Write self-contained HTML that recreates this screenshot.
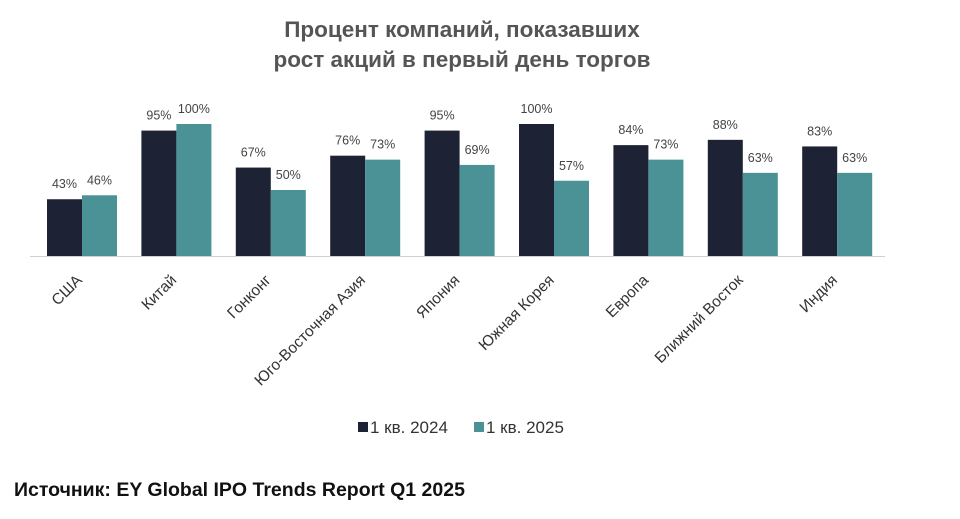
<!DOCTYPE html>
<html><head><meta charset="utf-8"><style>
body{margin:0;background:#fff;width:960px;height:514px;overflow:hidden;font-family:"Liberation Sans",sans-serif;}
</style></head><body>
<svg width="960" height="514">
<text x="462" y="37" text-anchor="middle" font-size="22.5" fill="#555" font-weight="bold">Процент компаний, показавших</text>
<text x="462" y="67" text-anchor="middle" font-size="22.5" fill="#555" font-weight="bold">рост акций в первый день торгов</text>
<g id="plot"></g>
<line x1="30" y1="256.5" x2="885" y2="256.5" stroke="#d0d0d0" stroke-width="1"/>
<rect x="358" y="422" width="10" height="10" fill="#1e2235"/>
<text x="370" y="433" font-size="17" fill="#333">1 кв. 2024</text>
<rect x="474" y="422" width="10" height="10" fill="#4a9296"/>
<text x="486" y="433" font-size="17" fill="#333">1 кв. 2025</text>
<text x="14" y="496" font-size="19.5" fill="#111" font-weight="bold">Источник: EY Global IPO Trends Report Q1 2025</text>
</svg>
<script>
const categories=["США","Китай","Гонконг","Юго-Восточная Азия","Япония","Южная Корея","Европа","Ближний Восток","Индия"];
const values2024=[43,95,67,76,95,100,84,88,83];
const values2025=[46,100,50,73,69,57,73,63,63];
const ns="http://www.w3.org/2000/svg";
const g=document.getElementById('plot');
const base=256, scale=1.32, x0=47, step=94.4, bw=35;
function xScale(i){return x0+i*step;}
function yScale(v){return base-v*scale;}
function mk(tag,attrs){const e=document.createElementNS(ns,tag);for(const k in attrs)e.setAttribute(k,attrs[k]);g.appendChild(e);return e;}
categories.forEach((c,i)=>{
  [[values2024,'#1e2235',0,'2024'],[values2025,'#4a9296',1,'2025']].forEach(([arr,col,o,yr])=>{
    const v=arr[i],x=xScale(i)+o*bw,y=yScale(v);
    const r=mk('rect',{x:x,y:y,width:bw,height:base-y,fill:col});
    
    
    const t=mk('text',{x:x+bw/2,y:y-11,'text-anchor':'middle','font-size':12.5,fill:'#444'});
    t.textContent=v+'%';
    
    
  });
  const cx=xScale(i)+bw+1, cy=281;
  const l=mk('text',{x:cx,y:cy,'text-anchor':'end','font-size':15.5,fill:'#333',transform:'rotate(-45 '+cx+' '+cy+')'});
  l.textContent=c;
  
  
});
</script>
</body></html>
